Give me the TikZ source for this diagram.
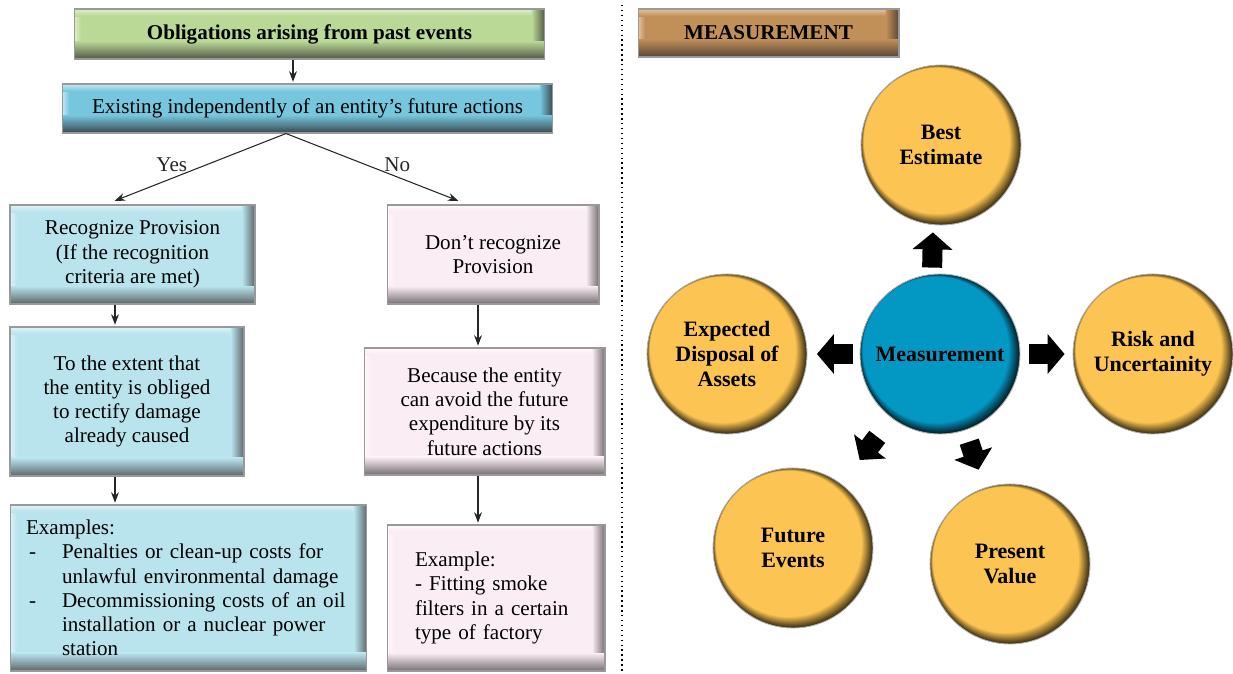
\documentclass[tikz,border=0pt]{standalone}
\usepackage{fontspec}
\setmainfont{Liberation Serif}
\usetikzlibrary{arrows.meta,calc}

\definecolor{grnbase}{RGB}{186,217,150}
\definecolor{grnlite}{RGB}{222,238,204}
\definecolor{grndark}{RGB}{80,86,70}
\definecolor{cynbase}{RGB}{118,198,222}
\definecolor{cynlite}{RGB}{198,232,242}
\definecolor{cyndark}{RGB}{56,70,76}
\definecolor{skybase}{RGB}{185,227,237}
\definecolor{skylite}{RGB}{222,242,247}
\definecolor{skydark}{RGB}{92,102,106}
\definecolor{pnkbase}{RGB}{250,237,244}
\definecolor{pnklite}{RGB}{254,248,251}
\definecolor{pnkdark}{RGB}{116,110,114}
\definecolor{brnbase}{RGB}{193,143,88}
\definecolor{brnlite}{RGB}{226,196,160}
\definecolor{brndark}{RGB}{86,70,54}
\definecolor{orbbase}{RGB}{252,196,82}
\definecolor{orbdark}{RGB}{60,48,20}
\definecolor{hubbase}{RGB}{3,152,196}
\definecolor{hubdark}{RGB}{5,30,40}

\begin{document}
\begin{tikzpicture}[x=0.02cm,y=-0.02cm,font=\fontsize{12}{13.8}\selectfont,>={Stealth[length=6pt,width=4.5pt]},
  bev/.style n args={3}{path picture={
    \fill[#1] (path picture bounding box.south west) rectangle (path picture bounding box.north east);
    \shade[left color=#2,right color=#1] (path picture bounding box.south west) rectangle ([xshift=0.14cm]path picture bounding box.north west);
    \shade[top color=#2,bottom color=#1] (path picture bounding box.north west) rectangle ([yshift=-0.14cm]path picture bounding box.north east);
    \shade[left color=#1,right color=#3] ([xshift=-0.26cm]path picture bounding box.north east) rectangle (path picture bounding box.south east);
    \shade[top color=#1,bottom color=#3] ([yshift=0.36cm]path picture bounding box.south west) rectangle (path picture bounding box.south east);}},
  box/.style={rectangle,draw=black!40,line width=0.6pt,align=center,inner sep=2pt},
  hd/.style={box,bev={grnbase}{grnlite}{grndark},font=\fontsize{12}{13.8}\selectfont\bfseries},
  qs/.style={box,bev={cynbase}{cynlite}{cyndark}},
  yb/.style={box,bev={skybase}{skylite}{skydark}},
  nb/.style={box,bev={pnkbase}{pnklite}{pnkdark}},
  tg/.style={box,bev={brnbase}{brnlite}{brndark},font=\fontsize{12}{13.8}\selectfont\bfseries},
  orb/.style 2 args={circle,minimum size=3.2cm,inner sep=0pt,draw=black!30,line width=0.5pt,align=center,
    font=\fontsize{12.5}{14}\selectfont\bfseries,
    path picture={
      \fill[#1] (path picture bounding box.south west) rectangle (path picture bounding box.north east);
      \foreach \k [evaluate=\k as \pc using int(100-6.25*\k)] in {0,...,16}
        \fill[#2!\pc!#1] ([shift={(-0.005cm*\k,0.005cm*\k)}]path picture bounding box.center) circle[radius=1.6cm-0.00875cm*\k];}},
  ar/.style={->,line width=0.6pt,black!85,shorten >=1pt},
  blk/.style={line width=0.4cm,-{Triangle[length=0.34cm,width=0.78cm]}},
  lbl/.style={inner sep=1pt}]
\useasboundingbox (0,0) rectangle (1233,673);

% left: recognition flow
\node[hd,minimum width=9.42cm,minimum height=1cm](obl) at (309.5,34) {Obligations arising from past events};
\node[qs,minimum width=9.82cm,minimum height=0.98cm](exist) at (307.5,108.5) {Existing independently of an entity’s future actions};
\node[yb,minimum width=4.9cm,minimum height=1.98cm](recog) at (132.5,254.5) {Recognize Provision\\(If the recognition\\criteria are met)};
\node[nb,minimum width=4.24cm,minimum height=1.98cm](dont) at (493,254.5) {Don’t recognize\\Provision};
\node[yb,minimum width=4.68cm,minimum height=2.98cm](extent) at (127,401.5) {To the extent that\\the entity is obliged\\to rectify damage\\already caused};
\node[nb,minimum width=4.82cm,minimum height=2.54cm](because) at (484.5,411.5) {Because the entity\\can avoid the future\\expenditure by its\\future actions};
\node[yb,align=left,text width=6.5cm,inner xsep=0.32cm,minimum height=3.32cm](cases) at (188.5,588) {Examples:\\
  \makebox[0.72cm][l]{\hspace{0.06cm}-}Penalties or clean-up costs for\\
  \hspace*{0.72cm}unlawful environmental damage\\
  \makebox[0.72cm][l]{\hspace{0.06cm}-}Decommissioning costs of an oil\\
  \hspace*{0.72cm}installation or a nuclear power\\
  \hspace*{0.72cm}station};
\node[nb,align=left,text width=3.24cm,inner xsep=0.56cm,minimum height=2.92cm](case) at (496,598) {Example:\\- Fitting smoke\\filters in a certain\\type of factory};

\draw[ar]([xshift=-0.33cm]obl.south)--([xshift=-0.33cm]obl.south |- exist.north);
\draw[ar]([xshift=-0.43cm]exist.south)--node[lbl,pos=0.66,yshift=0.27cm]{Yes}([xshift=-0.39cm,yshift=0.06cm]recog.north);
\draw[ar]([xshift=-0.43cm]exist.south)--node[lbl,pos=0.64,yshift=0.24cm]{No}([xshift=-0.66cm,yshift=0.06cm]dont.north);
\draw[ar]([xshift=-0.35cm]recog.south)--([xshift=-0.35cm]recog.south |- extent.north);
\draw[ar]([xshift=-0.3cm]dont.south)--([xshift=-0.3cm]dont.south |- because.north);
\draw[ar]([xshift=-0.24cm]extent.south)--([xshift=-0.24cm]extent.south |- cases.north);
\draw[ar]([xshift=-0.13cm]because.south)--([xshift=-0.13cm]because.south |- case.north);

\draw[dotted,line width=0.8pt](622,5)--(622,673);

% right: measurement
\node[tg,minimum width=5.22cm,minimum height=0.96cm](mtitle) at (768.5,33) {MEASUREMENT};
\node[orb={orbbase}{orbdark}](best) at (941,145) {Best\\Estimate};
\node[orb={hubbase}{hubdark}](meas) at (940,354) {Measurement};
\node[orb={orbbase}{orbdark}](expd) at (727,354) {Expected\\Disposal of\\Assets};
\node[orb={orbbase}{orbdark}](risk) at (1153,354) {Risk and\\Uncertainity};
\node[orb={orbbase}{orbdark}](future) at (793,548) {Future\\Events};
\node[orb={orbbase}{orbdark}](present) at (1010,564) {Present\\Value};

\draw[blk,shorten <=0.12cm,shorten >=0.14cm]([xshift=-0.16cm]meas.north)--([xshift=-0.16cm]best.south);
\draw[blk,shorten <=0.14cm,shorten >=0.19cm](meas.west)--(expd.east);
\draw[blk,shorten <=0.18cm,shorten >=0.16cm](meas.east)--(risk.west);
\draw[blk,shorten <=0.47cm,shorten >=0.6cm](meas)--(future);
\draw[blk,shorten <=0.24cm,shorten >=0.38cm](meas)--(present);
\end{tikzpicture}
\end{document}
